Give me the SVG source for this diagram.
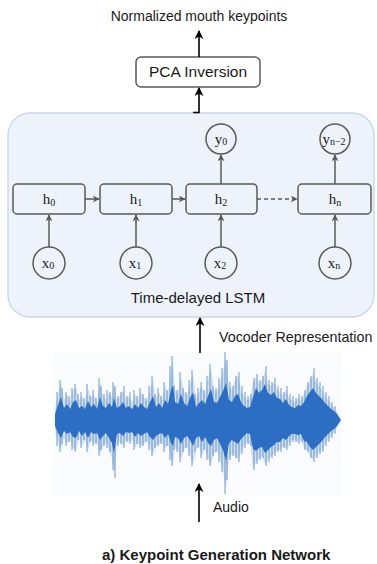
<svg xmlns="http://www.w3.org/2000/svg" width="377" height="564" viewBox="0 0 377 564">
<defs>
<marker id="ag" viewBox="0 0 10 10" refX="9" refY="5" markerWidth="7" markerHeight="7" markerUnits="userSpaceOnUse" orient="auto"><path d="M0,0 L10,5 L0,10 L3,5 Z" fill="#595959"/></marker>
<marker id="ab" viewBox="0 0 10 10" refX="9" refY="5" markerWidth="9" markerHeight="9" markerUnits="userSpaceOnUse" orient="auto"><path d="M0,0 L10,5 L0,10 L3,5 Z" fill="#000"/></marker>
<style>
.t{font-family:"Liberation Sans",Arial,sans-serif;fill:#1a1a1a}
.s{font-family:"Liberation Serif","Times New Roman",serif;fill:#222;font-size:15px}
.sub{font-size:10px}
.box{fill:none;stroke:#5a5a5a;stroke-width:1.5}
.gl{fill:none;stroke:#5a5a5a;stroke-width:1.5}
.bl{fill:none;stroke:#000;stroke-width:1.6}
</style>
</defs>
<rect width="377" height="564" fill="#fff"/>
<text class="t" x="199" y="21" font-size="14" text-anchor="middle">Normalized mouth keypoints</text>

<g id="lstm">
<rect x="8" y="113" width="366" height="204" rx="22" fill="#eef3fb" stroke="#c8d5ea" stroke-width="1.3"/>
<text class="t" x="198" y="303" font-size="15" text-anchor="middle">Time-delayed LSTM</text>
</g>

<g id="pca">
<rect class="box" x="136" y="57" width="124" height="30" rx="5" fill="#fff" stroke="#111"/>
<text class="t" x="198" y="77" font-size="15.5" text-anchor="middle">PCA Inversion</text>
</g>

<g id="h0"><rect class="box" x="13" y="184" width="72" height="30" rx="4"/><text class="s" x="49" y="204" text-anchor="middle">h<tspan class="sub" dy="2">0</tspan></text></g>
<g id="h1"><rect class="box" x="100" y="184" width="72" height="30" rx="4"/><text class="s" x="136" y="204" text-anchor="middle">h<tspan class="sub" dy="2">1</tspan></text></g>
<g id="h2"><rect class="box" x="186" y="184" width="71" height="30" rx="4"/><text class="s" x="221" y="204" text-anchor="middle">h<tspan class="sub" dy="2">2</tspan></text></g>
<g id="hn"><rect class="box" x="298" y="184" width="73" height="30" rx="4"/><text class="s" x="335" y="204" text-anchor="middle">h<tspan class="sub" dy="2">n</tspan></text></g>

<g id="y0"><circle class="box" cx="221" cy="139" r="15"/><text class="s" x="221" y="144" text-anchor="middle">y<tspan class="sub" dy="1">0</tspan></text></g>
<g id="yn2"><circle class="box" cx="335" cy="139" r="15"/><text class="s" x="334" y="144" text-anchor="middle">y<tspan class="sub" dy="1">n−2</tspan></text></g>

<g id="x0"><circle class="box" cx="49" cy="263" r="16"/><text class="s" x="48" y="268" text-anchor="middle">x<tspan class="sub" dy="1">0</tspan></text></g>
<g id="x1"><circle class="box" cx="136" cy="263" r="16"/><text class="s" x="135" y="268" text-anchor="middle">x<tspan class="sub" dy="1">1</tspan></text></g>
<g id="x2"><circle class="box" cx="221" cy="263" r="16"/><text class="s" x="220" y="268" text-anchor="middle">x<tspan class="sub" dy="1">2</tspan></text></g>
<g id="xn"><circle class="box" cx="335" cy="263" r="16"/><text class="s" x="334" y="268" text-anchor="middle">x<tspan class="sub" dy="1">n</tspan></text></g>

<g id="waveform">
<rect x="53" y="353" width="289" height="143" fill="#fafbfc"/>
<path fill="#a9c3dc" fill-opacity="0.5" d="M55,410 58,395 61,382 64,400 67,394 70,402 73,390 76,387 79,400 82,396 85,402 88,388 91,398 94,394 97,402 100,382 103,396 106,400 109,392 112,398 114,384 117,400 120,396 123,390 126,400 129,396 132,402 135,394 138,400 141,392 144,398 147,402 150,390 153,380 156,398 159,392 162,400 165,386 168,394 171,370 173,362 175,390 178,394 181,376 184,392 187,396 190,384 193,374 196,398 199,392 202,386 205,394 208,380 211,368 214,390 217,392 220,382 223,372 226,358 229,386 232,390 235,380 238,376 241,390 244,396 247,400 250,398 253,382 256,378 259,384 262,380 265,372 268,384 271,386 274,382 277,390 280,392 283,396 286,390 289,398 292,400 295,402 298,398 301,400 304,394 307,386 310,380 313,374 316,382 319,386 322,390 325,396 328,400 331,404 334,408 337,412 341,420 337,428 334,432 331,436 328,440 325,444 322,450 319,452 316,456 313,460 310,456 307,450 304,448 301,440 298,442 295,440 292,440 289,444 286,448 283,446 280,450 277,450 274,454 271,456 268,460 265,464 262,456 259,458 256,462 253,468 250,444 247,442 244,446 241,452 238,460 235,456 232,454 229,458 226,488 223,470 220,460 217,450 214,454 211,464 208,458 205,448 202,456 199,446 196,450 193,464 190,454 187,446 184,450 181,460 178,450 175,448 173,464 171,458 168,444 165,450 162,442 159,444 156,446 153,454 150,448 147,440 144,444 141,446 138,442 135,448 132,440 129,442 126,440 123,446 120,442 117,444 114,475 112,458 109,450 106,442 103,446 100,454 97,442 94,444 91,440 88,450 85,440 82,446 79,438 76,450 73,448 70,440 67,444 64,438 61,450 58,442 55,430 Z"/>
<path fill="none" stroke="#3d7cc6" stroke-opacity="0.75" stroke-width="1" d="M57,392V446M60,380V452M62,388V444M66,392V446M69,396V442M72,388V450M75,384V452M78,394V440M81,392V448M84,398V440M87,384V452M90,396V442M93,390V446M96,398V444M99,378V456M101,386V450M104,394V446M107,390V448M110,392V452M113,382V470M115,386V478M118,396V446M121,392V444M124,386V448M127,396V442M130,392V444M134,390V450M137,396V444M140,388V448M143,394V446M146,398V442M149,386V450M152,376V456M155,394V448M158,388V446M161,396V444M164,382V452M167,390V446M170,366V460M172,356V466M174,386V450M177,390V452M180,372V462M183,388V452M186,392V448M189,380V456M192,370V466M195,394V452M198,388V448M201,382V458M204,390V450M207,376V460M210,364V466M213,386V456M216,388V452M219,378V462M222,368V472M225,352V494M227,360V480M230,382V460M233,386V456M236,376V458M239,372V462M242,386V454M245,392V448M248,396V444M251,394V446M254,378V470M257,374V464M260,380V460M263,376V458M266,366V466M269,380V462M272,382V458M275,378V456M278,386V452M281,388V452M284,392V448M287,386V450M290,394V446M293,396V442M296,398V442M299,394V444M302,396V442M305,390V450M308,382V452M311,376V458M314,368V462M317,378V458M320,382V454M323,386V452M326,392V446M329,396V442M332,402V438M335,406V434"/>
<path fill="#2b6ec3" d="M55,414 58,405 61,397 64,408 67,404 70,409 73,402 76,400 79,408 82,406 85,409 88,401 91,407 94,404 97,409 100,397 103,406 106,408 109,403 112,407 114,398 117,408 120,406 123,402 126,408 129,406 132,409 135,404 138,408 141,403 144,407 147,409 150,402 153,396 156,407 159,403 162,408 165,400 168,404 171,390 173,385 175,402 178,404 181,394 184,403 187,406 190,398 193,392 196,407 199,403 202,400 205,404 208,396 211,389 214,402 217,403 220,397 223,391 226,383 229,400 232,402 235,396 238,394 241,402 244,406 247,408 250,407 253,397 256,388 259,393 262,390 265,384 268,393 271,395 274,392 277,398 280,399 283,403 286,399 289,405 292,407 295,408 298,405 301,406 304,402 307,396 310,392 313,388 316,393 319,396 322,399 325,403 328,406 331,409 334,411 337,414 341,420 337,426 334,429 331,431 328,434 325,437 322,441 319,444 316,447 313,450 310,447 307,442 304,441 301,434 298,435 295,434 292,434 289,436 286,440 283,438 280,442 277,442 274,445 271,447 268,450 265,453 262,447 259,448 256,451 253,449 250,434 247,433 244,436 241,439 238,444 235,442 232,440 229,443 226,461 223,450 220,444 217,438 214,440 211,446 208,443 205,437 202,442 199,436 196,438 193,446 190,440 187,436 184,438 181,444 178,438 175,437 173,446 171,443 168,434 165,438 162,433 159,434 156,436 153,440 150,437 147,432 144,434 141,436 138,433 135,437 132,432 129,433 126,432 123,436 120,433 117,434 114,453 112,443 109,438 106,433 103,436 100,440 97,433 94,434 91,432 88,438 85,432 82,436 79,431 76,438 73,437 70,432 67,434 64,431 61,438 58,433 55,426 Z"/>
</g>

<g id="connectors">
<path class="bl" d="M199,57 V31" marker-end="url(#ab)"/>
<path class="bl" d="M193,112.5 H199 V88" marker-end="url(#ab)"/>
<path class="gl" d="M85,199 H99" marker-end="url(#ag)"/>
<path class="gl" d="M172,199 H185" marker-end="url(#ag)"/>
<path class="gl" d="M257,199 H297" stroke-dasharray="4,3" marker-end="url(#ag)"/>
<path class="gl" d="M49,247 V215" marker-end="url(#ag)"/>
<path class="gl" d="M136,247 V215" marker-end="url(#ag)"/>
<path class="gl" d="M221,247 V215" marker-end="url(#ag)"/>
<path class="gl" d="M335,247 V215" marker-end="url(#ag)"/>
<path class="gl" d="M221,184 V155" marker-end="url(#ag)"/>
<path class="gl" d="M335,184 V155" marker-end="url(#ag)"/>
<path class="bl" d="M200,353 V318" marker-end="url(#ab)"/>
<path class="bl" d="M199,522 V484" marker-end="url(#ab)"/>
</g>

<text class="t" x="219" y="342" font-size="14.3">Vocoder Representation</text>
<text class="t" x="213" y="512" font-size="14">Audio</text>
<text class="t" x="102" y="560" font-size="15" font-weight="bold" fill="#000">a) Keypoint Generation Network</text>
</svg>
